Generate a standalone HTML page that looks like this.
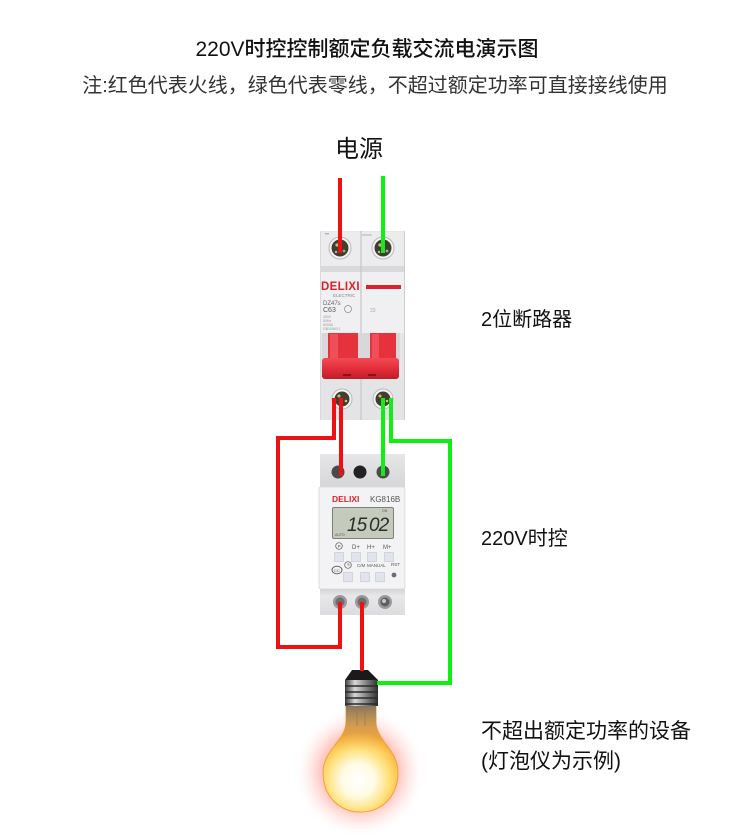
<!DOCTYPE html>
<html><head><meta charset="utf-8">
<style>
html,body{margin:0;padding:0;background:#fff;}
svg{display:block;}
text{font-family:"Liberation Sans","Noto Sans CJK SC",sans-serif;}
</style></head>
<body>
<svg width="750" height="840" viewBox="0 0 750 840" xmlns="http://www.w3.org/2000/svg">
<defs>
  <radialGradient id="glow" cx="360" cy="772" r="66" gradientUnits="userSpaceOnUse">
    <stop offset="0" stop-color="#ff8a70" stop-opacity="0.55"/>
    <stop offset="0.6" stop-color="#ff7a6a" stop-opacity="0.4"/>
    <stop offset="0.8" stop-color="#ffb0a8" stop-opacity="0.18"/>
    <stop offset="1" stop-color="#ffffff" stop-opacity="0"/>
  </radialGradient>
  <radialGradient id="glass" cx="358" cy="780" r="48" gradientUnits="userSpaceOnUse">
    <stop offset="0" stop-color="#ffffff"/>
    <stop offset="0.35" stop-color="#fffbe4"/>
    <stop offset="0.65" stop-color="#ffe07a"/>
    <stop offset="0.88" stop-color="#fbbd45"/>
    <stop offset="1" stop-color="#f0a030"/>
  </radialGradient>
  <linearGradient id="neck" x1="0" y1="705" x2="0" y2="750" gradientUnits="userSpaceOnUse">
    <stop offset="0" stop-color="#7d705f" stop-opacity="0.95"/>
    <stop offset="0.5" stop-color="#c79a60" stop-opacity="0.6"/>
    <stop offset="1" stop-color="#f5b050" stop-opacity="0"/>
  </linearGradient>
  <linearGradient id="thread" x1="345" y1="0" x2="378" y2="0" gradientUnits="userSpaceOnUse">
    <stop offset="0" stop-color="#3a3a3a"/>
    <stop offset="0.3" stop-color="#d8d8d8"/>
    <stop offset="0.55" stop-color="#9a9a9a"/>
    <stop offset="1" stop-color="#2e2e2e"/>
  </linearGradient>
  <linearGradient id="tblock" x1="0" y1="454" x2="0" y2="488" gradientUnits="userSpaceOnUse">
    <stop offset="0" stop-color="#e6e6e8"/>
    <stop offset="1" stop-color="#d6d6d9"/>
  </linearGradient>
  <linearGradient id="bblock" x1="0" y1="588" x2="0" y2="615" gradientUnits="userSpaceOnUse">
    <stop offset="0" stop-color="#d2d2d5"/>
    <stop offset="0.3" stop-color="#e8e8ea"/>
    <stop offset="1" stop-color="#dcdcdf"/>
  </linearGradient>
  <linearGradient id="handlebar" x1="0" y1="358" x2="0" y2="380" gradientUnits="userSpaceOnUse">
    <stop offset="0" stop-color="#f04b55"/>
    <stop offset="0.5" stop-color="#e32d38"/>
    <stop offset="1" stop-color="#b91c27"/>
  </linearGradient>
</defs>

<!-- Texts -->
<text x="367" y="56" font-size="21" font-weight="500" fill="#111" text-anchor="middle">220V时控控制额定负载交流电演示图</text>
<text x="375" y="92" font-size="20" fill="#333" text-anchor="middle">注:红色代表火线，绿色代表零线，不超过额定功率可直接接线使用</text>
<text x="359" y="157" font-size="24" fill="#111" text-anchor="middle">电源</text>
<text x="481" y="326" font-size="20" fill="#111">2位断路器</text>
<text x="481" y="545" font-size="20" fill="#111">220V时控</text>
<text x="481" y="738" font-size="21" fill="#111">不超出额定功率的设备</text>
<text x="481" y="768" font-size="21" fill="#111">(灯泡仪为示例)</text>

<!-- ============ Breaker ============ -->
<g>
  <rect x="320" y="231" width="85" height="189" rx="2" fill="#e6e6e8"/>
  <rect x="321" y="232" width="83" height="38" fill="#ececee"/>
  <rect x="321" y="266" width="83" height="6" fill="#d9d9dc"/>
  <rect x="320" y="272" width="85" height="61" fill="#f0f0f2"/>
  <line x1="361" y1="231" x2="361" y2="420" stroke="#c6c6ca" stroke-width="1.2"/>
  <line x1="404.5" y1="231" x2="404.5" y2="420" stroke="#cfcfd2" stroke-width="1"/>
  <line x1="320.5" y1="231" x2="320.5" y2="420" stroke="#dadadd" stroke-width="1"/>
  <rect x="325" y="233" width="4" height="1.5" fill="#b5b5b8"/>
  <rect x="362" y="234" width="10" height="2" fill="#cfcfd2"/>
  <!-- labels -->
  <text x="321" y="290" font-size="11.5" font-weight="bold" fill="#d8232c" font-family="Liberation Serif, serif" letter-spacing="0.3">DELIXI</text>
  <rect x="366" y="285" width="35" height="4" fill="#d8232c"/>
  <text x="333" y="297" font-size="4.5" fill="#888">ELECTRIC</text>
  <text x="323" y="305" font-size="6" fill="#666">DZ47s</text>
  <text x="323" y="312" font-size="7" fill="#555">C63</text>
  <circle cx="348" cy="309" r="3.5" fill="none" stroke="#888" stroke-width="0.7"/>
  <text x="323" y="318" font-size="3.5" fill="#999">400V</text>
  <text x="323" y="322" font-size="3.5" fill="#999">50Hz</text>
  <text x="323" y="326" font-size="3.5" fill="#999">6000A</text>
  <text x="323" y="330" font-size="3.5" fill="#999">GB10963.1</text>
  <text x="370" y="312" font-size="5" fill="#aaa">33</text>
  <!-- handle zone -->
  <rect x="322" y="333" width="78" height="28" fill="#d8d8db"/>
  <rect x="328" y="333" width="30" height="28" fill="#e5323c"/>
  <rect x="330" y="334" width="8" height="26" fill="#ef4f58"/>
  <rect x="370" y="333" width="26" height="28" fill="#e5323c"/>
  <rect x="372" y="334" width="7" height="26" fill="#ef4f58"/>
  <rect x="322" y="358" width="77" height="21" rx="3" fill="url(#handlebar)"/>
  <rect x="343" y="374" width="8" height="2" fill="#8d1018"/>
  <rect x="368" y="374" width="8" height="2" fill="#8d1018"/>
  <!-- lower housing -->
  <rect x="321" y="379" width="83" height="41" fill="#e4e4e6"/>
  <line x1="361" y1="379" x2="361" y2="420" stroke="#c6c6ca" stroke-width="1.2"/>
  <!-- screws -->
  <g>
    <circle cx="340" cy="248" r="11" fill="#f4f4f4" stroke="#b8b8bb" stroke-width="1"/>
    <circle cx="340" cy="248" r="8.5" fill="#3f3e30"/>
    <circle cx="337" cy="245" r="1.6" fill="#c9c07a"/>
    <circle cx="344" cy="251" r="1.4" fill="#9fae7a"/>
    <circle cx="336" cy="252" r="1.2" fill="#bfb78a"/>
    <circle cx="383" cy="248" r="11" fill="#f4f4f4" stroke="#b8b8bb" stroke-width="1"/>
    <circle cx="383" cy="248" r="8.5" fill="#3f3e30"/>
    <circle cx="380" cy="245" r="1.6" fill="#c9c07a"/>
    <circle cx="387" cy="251" r="1.4" fill="#9fae7a"/>
    <circle cx="379" cy="252" r="1.2" fill="#bfb78a"/>
    <circle cx="342" cy="399" r="10" fill="#f4f4f4" stroke="#b8b8bb" stroke-width="1"/>
    <circle cx="342" cy="399" r="7.5" fill="#3f3e30"/>
    <circle cx="339" cy="396" r="1.5" fill="#c9c07a"/>
    <circle cx="346" cy="401" r="1.3" fill="#d9c070"/>
    <circle cx="383" cy="399" r="10" fill="#f4f4f4" stroke="#b8b8bb" stroke-width="1"/>
    <circle cx="383" cy="399" r="7.5" fill="#3f3e30"/>
    <circle cx="380" cy="396" r="1.5" fill="#c9c07a"/>
    <circle cx="387" cy="401" r="1.3" fill="#d9c070"/>
  </g>
</g>

<!-- ============ Timer ============ -->
<g>
  <rect x="320" y="454" width="85" height="34" fill="url(#tblock)"/>
  <circle cx="338" cy="472" r="6.5" fill="#4a4a4a"/>
  <circle cx="360" cy="472" r="6.5" fill="#222"/>
  <circle cx="383" cy="472" r="6.5" fill="#4a4a4a"/>
  <rect x="319" y="487" width="86" height="102" rx="2" fill="#f3f3f5" stroke="#dcdcdf" stroke-width="1"/>
  <text x="332" y="502" font-size="8.5" font-weight="bold" fill="#d8232c" font-family="Liberation Serif, serif">DELIXI</text>
  <text x="370" y="502" font-size="8" fill="#555">KG816B</text>
  <rect x="332.5" y="507.5" width="61" height="31" rx="1.5" fill="#c4cbbd" stroke="#7c8078" stroke-width="1"/>
  <text x="347" y="531" font-size="19" fill="#2c2c2c" font-style="italic" letter-spacing="-1">15</text>
  <text x="369" y="531" font-size="19" fill="#2c2c2c" font-style="italic" letter-spacing="-1">02</text>
  <text x="335" y="536" font-size="3.5" fill="#555">AUTO</text>
  <text x="382" y="512" font-size="3.5" fill="#555">ON</text>
  <!-- labels row 1 -->
  <circle cx="339" cy="546" r="3.3" fill="none" stroke="#555" stroke-width="0.7"/>
  <text x="337.6" y="548" font-size="4.5" fill="#555">P</text>
  <text x="352" y="549" font-size="6" fill="#555">D+</text>
  <text x="367" y="549" font-size="6" fill="#555">H+</text>
  <text x="383" y="549" font-size="6" fill="#555">M+</text>
  <!-- buttons row 1 -->
  <rect x="334.5" y="552.5" width="9" height="9" fill="#e1e4ec" stroke="#ccd0d8" stroke-width="0.8"/>
  <rect x="351.5" y="552.5" width="9" height="9" fill="#e1e4ec" stroke="#ccd0d8" stroke-width="0.8"/>
  <rect x="367.5" y="552.5" width="9" height="9" fill="#e1e4ec" stroke="#ccd0d8" stroke-width="0.8"/>
  <rect x="384.5" y="552.5" width="9" height="9" fill="#e1e4ec" stroke="#ccd0d8" stroke-width="0.8"/>
  <!-- row 2 -->
  <ellipse cx="337" cy="570" rx="5" ry="3.8" fill="none" stroke="#555" stroke-width="0.9"/>
  <text x="334" y="572" font-size="4" fill="#555">CC</text>
  <circle cx="348" cy="565" r="3.3" fill="none" stroke="#555" stroke-width="0.7"/>
  <path d="M348,563 L348,565 L350,565" fill="none" stroke="#555" stroke-width="0.6"/>
  <text x="357" y="567" font-size="4.5" fill="#555">C/M</text>
  <text x="367" y="567" font-size="4.5" fill="#555">MANUAL</text>
  <text x="391" y="566" font-size="4.5" fill="#555">RST</text>
  <rect x="343.5" y="572.5" width="9" height="9" fill="#e1e4ec" stroke="#ccd0d8" stroke-width="0.8"/>
  <rect x="360.5" y="572.5" width="9" height="9" fill="#e1e4ec" stroke="#ccd0d8" stroke-width="0.8"/>
  <rect x="375.5" y="572.5" width="9" height="9" fill="#e1e4ec" stroke="#ccd0d8" stroke-width="0.8"/>
  <circle cx="394" cy="575" r="2.4" fill="#6a6d78"/>
  <!-- bottom block -->
  <rect x="320" y="589" width="85" height="26" fill="url(#bblock)"/>
  <circle cx="340" cy="602" r="7" fill="#9a9a9a"/>
  <circle cx="340" cy="602" r="4.5" fill="#6e6e6e"/>
  <circle cx="362" cy="602" r="7" fill="#9a9a9a"/>
  <circle cx="362" cy="602" r="4.5" fill="#6e6e6e"/>
  <circle cx="385" cy="602" r="7" fill="#9a9a9a"/>
  <circle cx="385" cy="602" r="4.5" fill="#5e5e5e"/>
  <circle cx="384" cy="601" r="2" fill="#c8c8c8"/>
</g>

<!-- ============ Bulb ============ -->
<g>
  <circle cx="360" cy="772" r="66" fill="url(#glow)"/>
  <path d="M346,705 L346,722 C346,740 323,750 323,772 C323,797 340,812 360.5,812 C381,812 398,797 398,772 C398,750 376,740 376,722 L376,705 Z" fill="url(#glass)" stroke="#f0a040" stroke-width="1"/>
  <path d="M346,705 L346,722 C346,738 333,746 328,756 L393,756 C388,746 376,738 376,722 L376,705 Z" fill="url(#neck)"/>
  <path d="M357,712 L357,726 M365,712 L365,726" stroke="#8a7a66" stroke-width="1" opacity="0.6"/>
  <rect x="345" y="680" width="33" height="26" fill="url(#thread)"/>
  <path d="M345,686 L378,686 M345,692 L378,692 M345,698 L378,698 M345,704 L378,704" stroke="#2a2a2a" stroke-width="1.5"/>
  <path d="M352,670 L368,670 L378,680 L345,680 Z" fill="#1a1a1a"/>
</g>

<!-- ============ Wires ============ -->
<g fill="none" stroke-width="4" stroke-linejoin="miter" stroke-linecap="butt">
  <line x1="340" y1="178" x2="340" y2="253" stroke="#ee1111"/>
  <line x1="383" y1="176" x2="383" y2="253" stroke="#11ee11"/>
  <polyline points="334,398 334,438 278,438 278,647 340,647 340,602" stroke="#ee1111"/>
  <line x1="341" y1="398" x2="341" y2="476" stroke="#ee1111"/>
  <line x1="383" y1="398" x2="383" y2="476" stroke="#11ee11"/>
  <polyline points="391,398 391,441 450,441 450,683 377,683" stroke="#11ee11"/>
  <line x1="362" y1="602" x2="362" y2="671" stroke="#ee1111"/>
</g>
</svg>
</body></html>
